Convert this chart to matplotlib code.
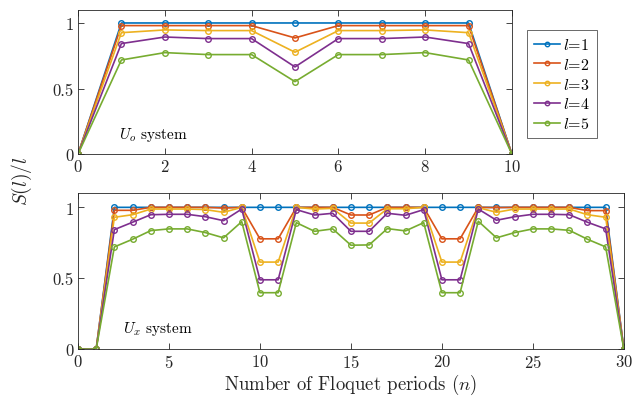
import matplotlib
matplotlib.use("Agg")
import matplotlib.pyplot as plt

plt.rcParams['font.family'] = ['cmr10', 'DejaVu Serif']
plt.rcParams['mathtext.fontset'] = 'cm'
plt.rcParams['axes.formatter.use_mathtext'] = True

# MATLAB default line colours
colors = ['#0072BD', '#D95319', '#EDB120', '#7E2F8E', '#77AC30']
labels = ['$l$=1', '$l$=2', '$l$=3', '$l$=4', '$l$=5']

# U_o system, n = 0..10
n_top = list(range(11))
top_l1 = [0, 1, 1, 1, 1, 1, 1, 1, 1, 1, 0]
top_l2 = [0, 0.980, 0.980, 0.980, 0.980, 0.886, 0.980, 0.980, 0.980, 0.980, 0]
top_l3 = [0, 0.926, 0.947, 0.942, 0.942, 0.777, 0.942, 0.942, 0.947, 0.926, 0]
top_l4 = [0, 0.843, 0.893, 0.881, 0.881, 0.665, 0.881, 0.881, 0.893, 0.843, 0]
top_l5 = [0, 0.718, 0.774, 0.759, 0.759, 0.553, 0.759, 0.759, 0.774, 0.718, 0]

# U_x system, n = 0..30
n_bot = list(range(31))
bot_l1 = [0, 0] + [1] * 28 + [0]
bot_l2 = [0, 0, 0.979, 0.979, 1, 1, 1, 1, 0.995, 1, 0.778, 0.778, 1, 1, 1,
          0.946, 0.946, 1, 1, 1, 0.778, 0.778, 1, 0.998, 1, 1, 1, 1,
          0.977, 0.977, 0]
bot_l3 = [0, 0, 0.930, 0.948, 0.988, 0.988, 0.988, 0.984, 0.965, 1, 0.614,
          0.614, 1, 0.988, 0.993, 0.889, 0.889, 0.990, 0.990, 1, 0.614, 0.614,
          0.998, 0.965, 0.988, 0.988, 0.988, 0.988, 0.948, 0.930, 0]
bot_l4 = [0, 0, 0.843, 0.895, 0.948, 0.951, 0.951, 0.934, 0.906, 0.988, 0.489,
          0.489, 0.984, 0.946, 0.958, 0.831, 0.831, 0.958, 0.944, 0.984, 0.489,
          0.489, 0.988, 0.909, 0.934, 0.951, 0.951, 0.948, 0.895, 0.848, 0]
bot_l5 = [0, 0, 0.721, 0.775, 0.836, 0.848, 0.848, 0.822, 0.785, 0.899, 0.398,
          0.398, 0.892, 0.831, 0.848, 0.733, 0.735, 0.850, 0.834, 0.892, 0.398,
          0.398, 0.902, 0.785, 0.822, 0.848, 0.848, 0.838, 0.775, 0.721, 0]

top_series = [top_l1, top_l2, top_l3, top_l4, top_l5]
bot_series = [bot_l1, bot_l2, bot_l3, bot_l4, bot_l5]

fig = plt.figure(figsize=(6.34, 4.02), dpi=100)
ax1 = fig.add_axes([0.123, 0.614, 0.6845, 0.359])
ax2 = fig.add_axes([0.123, 0.129, 0.861, 0.388])

style = dict(marker='o', markersize=4, markerfacecolor='none',
             markeredgewidth=1.0, linewidth=1.2)

for ys, c, lab in zip(top_series, colors, labels):
    ax1.plot(n_top, ys, color=c, label=lab, **style)
for ys, c in zip(bot_series, colors):
    ax2.plot(n_bot, ys, color=c, **style)

for ax in (ax1, ax2):
    ax.set_ylim(0, 1.1)
    ax.set_yticks([0, 0.5, 1])
    ax.set_yticklabels(['0', '0.5', '1'])
    ax.tick_params(direction='in', top=True, right=True, labelsize=12,
                   colors='#262626', length=4, width=0.6, pad=3)
    for sp in ax.spines.values():
        sp.set_color('#262626')
        sp.set_linewidth(0.6)

ax1.set_xlim(0, 10)
ax1.set_xticks([0, 2, 4, 6, 8, 10])
ax2.set_xlim(0, 30)
ax2.set_xticks([0, 5, 10, 15, 20, 25, 30])

ax1.text(0.94, 0.12, '$U_o$ system', fontsize=11)
ax2.text(2.46, 0.12, '$U_x$ system', fontsize=11)

ax2.set_xlabel('Number of Floquet periods $(n)$', fontsize=13.5,
               color='#262626', labelpad=1)
fig.text(0.035, 0.55, '$S(l)/l$', rotation=90, fontsize=14,
         ha='center', va='center', color='#262626')

leg = ax1.legend(loc='upper left', bbox_to_anchor=(1.035, 0.861),
                 fontsize=11.5, frameon=True, fancybox=False,
                 handlelength=1.6, handletextpad=0.2, borderpad=0.45,
                 labelspacing=0.3, borderaxespad=0, markerscale=0.8)
leg.get_frame().set_edgecolor('#262626')
leg.get_frame().set_linewidth(0.6)

fig.savefig('out.png', dpi=100)
